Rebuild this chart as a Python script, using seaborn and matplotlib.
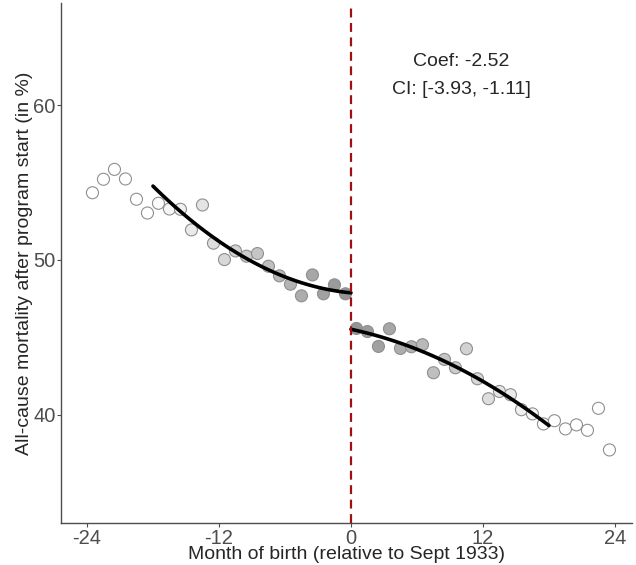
# RD-Plot: Mortalität nach Geburtsmonat

import numpy as np
import pandas as pd
import matplotlib.pyplot as plt
import seaborn as sns
from matplotlib.colors import LinearSegmentedColormap

# Daten
monate_links = [-23.5, -22.5, -21.5, -20.5, -19.5, -18.5, -17.5, -16.5, -15.5, -14.5, -13.5, -12.5,
                -11.5, -10.5, -9.5, -8.5, -7.5, -6.5, -5.5, -4.5, -3.5, -2.5, -1.5, -0.5]
werte_links = [54.34, 55.21, 55.85, 55.23, 53.92, 53.03, 53.66, 53.29, 53.27, 51.94, 53.55, 51.08,
               50.02, 50.58, 50.24, 50.41, 49.59, 48.97, 48.43, 47.68, 49.03, 47.81, 48.39, 47.81]
monate_rechts = [0.5, 1.5, 2.5, 3.5, 4.5, 5.5, 6.5, 7.5, 8.5, 9.5, 10.5, 11.5,
                 12.5, 13.5, 14.5, 15.5, 16.5, 17.5, 18.5, 19.5, 20.5, 21.5, 22.5, 23.5]
werte_rechts = [45.57, 45.37, 44.41, 45.55, 44.28, 44.39, 44.52, 42.71, 43.57, 43.03, 44.26, 42.32,
                41.03, 41.50, 41.29, 40.32, 40.05, 39.40, 39.61, 39.08, 39.34, 38.99, 40.41, 37.72]
x_ticks = [-24, -12, 0, 12, 24]
y_ticks = [40, 50, 60]
bandbreite = 18

# Dataframe mit Dreieckskern-Gewichten
df = pd.DataFrame({'Monat': monate_links + monate_rechts,
                   'Mortalitaet': werte_links + werte_rechts})
df['Gewicht'] = (1 - df['Monat'].abs() / bandbreite).clip(lower=0)

# Plotgröße und Achsenbereich
sns.set_style('white')
plt.rcParams['font.family'] = ['Liberation Sans', 'DejaVu Sans']
fig = plt.figure(figsize=(6.36, 5.65), dpi=100)
ax = fig.add_axes([61 / 636, 42 / 565, 571 / 636, 520 / 565])

# Punkte, Füllung je nach Gewicht
grau = LinearSegmentedColormap.from_list('grau', ['#ffffff', '#929292'])
sns.scatterplot(data=df, x='Monat', y='Mortalitaet', hue='Gewicht', palette=grau,
                hue_norm=(0, 1), s=75, edgecolor='#8f8f8f', linewidth=0.8,
                legend=False, ax=ax, zorder=2)

# Gewichtete quadratische Fits auf beiden Seiten
for seite, grenzen in [(df['Monat'] < 0, (-bandbreite, 0)), (df['Monat'] > 0, (0, bandbreite))]:
    sub = df[seite & (df['Gewicht'] > 0)]
    koeff = np.polyfit(sub['Monat'], sub['Mortalitaet'], 2, w=np.sqrt(sub['Gewicht']))
    xs = np.linspace(grenzen[0], grenzen[1], 100)
    sns.lineplot(x=xs, y=np.polyval(koeff, xs), color='black', linewidth=2.6, ax=ax, zorder=3)

# Cutoff-Linie
ax.axvline(0, color='#a01010', linestyle=(0, (4, 2.5)), linewidth=1.6, zorder=4)

# Text mit Koeffizient
ax.text(10, 62.8, 'Coef: -2.52', ha='center', va='center', fontsize=14)
ax.text(10, 61.0, 'CI: [-3.93, -1.11]', ha='center', va='center', fontsize=14)

# Achsen
ax.set_xlim(-26.36, 25.55)
ax.set_ylim(33.0, 66.6)
ax.set_xticks(x_ticks)
ax.set_xticklabels([str(t) for t in x_ticks])
ax.set_yticks(y_ticks)
ax.tick_params(axis='both', labelsize=14.5, labelcolor='#4d4d4d', color='#4d4d4d',
               length=3, width=0.8, direction='out', left=True, bottom=True, pad=1)
ax.set_xlabel('Month of birth (relative to Sept 1933)', fontsize=14, labelpad=-1)
ax.set_ylabel('All-cause mortality after program start (in %)', fontsize=14, labelpad=0)
sns.despine(ax=ax)
for s in ['left', 'bottom']:
    ax.spines[s].set_color('#4d4d4d')
    ax.spines[s].set_linewidth(1.0)

plt.savefig('out.png', dpi=100)
